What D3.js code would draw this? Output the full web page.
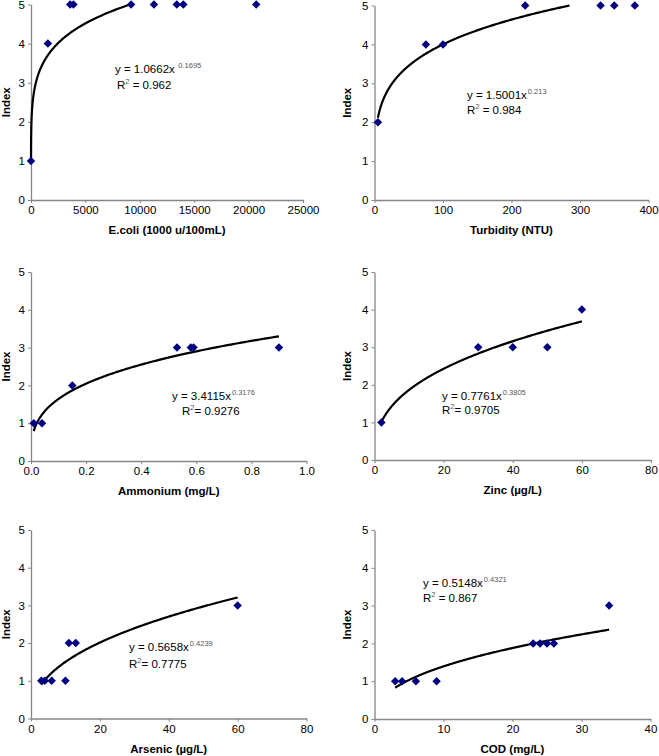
<!DOCTYPE html>
<html>
<head>
<meta charset="utf-8">
<script src="https://cdn.jsdelivr.net/npm/d3@7"></script>
<style>
  html, body { margin: 0; padding: 0; background: #fff; }
  svg { display: block; font-family: "Liberation Sans", Arial, sans-serif; }
</style>
</head>
<body>
<svg id="chart" width="659" height="756"></svg>
<script>
// ---------- data ----------
const yTicks = [0, 1, 2, 3, 4, 5];

const ecoliX = [1, 1550, 3600, 3900, 9200, 11300, 13400, 14000, 20700];
const ecoliY = [1, 4, 5, 5, 5, 5, 5, 5, 5];
const ecoliTicks = [0, 5000, 10000, 15000, 20000, 25000];

const turbX = [5, 75, 100, 220, 330, 350, 380];
const turbY = [2, 4, 4, 5, 5, 5, 5];
const turbTicks = [0, 100, 200, 300, 400];

const ammX = [0.01, 0.04, 0.15, 0.53, 0.58, 0.59, 0.90];
const ammY = [1, 1, 2, 3, 3, 3, 3];
const ammTicks = [0, 0.2, 0.4, 0.6, 0.8, 1.0];

const zincX = [2, 30, 40, 50, 60];
const zincY = [1, 3, 3, 3, 4];
const zincTicks = [0, 20, 40, 60, 80];

const arsX = [3, 4, 6, 10, 11, 13, 60];
const arsY = [1, 1, 1, 1, 2, 2, 3];
const arsTicks = [0, 20, 40, 60, 80];

const codX = [3, 4, 6, 9, 23, 24, 25, 26, 34];
const codY = [1, 1, 1, 1, 2, 2, 2, 2, 3];
const codTicks = [0, 10, 20, 30, 40];

const titles = ["E.coli (1000 u/100mL)", "Turbidity (NTU)", "Ammonium (mg/L)",
                "Zinc (\u00b5g/L)", "Arsenic (\u00b5g/L)", "COD (mg/L)"];
// power trendlines y = a * x^b as printed on the chart
const fitA = [1.0662, 1.5001, 3.4115, 0.7761, 0.5658, 0.5148];
const fitB = [0.1695, 0.213, 0.3176, 0.3805, 0.4239, 0.4321];
const eqMain = ["y = 1.0662x", "y = 1.5001x", "y = 3.4115x", "y = 0.7761x", "y = 0.5658x", "y = 0.5148x"];
const eqSup  = ["0.1695", "0.213", "0.3176", "0.3805", "0.4239", "0.4321"];
const r2Text = ["= 0.962", "= 0.984", "= 0.9276", "= 0.9705", "= 0.7775", "= 0.867"];
const r2Gap  = [true, true, false, false, false, true];

// ---------- layout ----------
const layout = [
  { l: 31,    r: 303,   t: 4.5, b: 200,   eq: [115, 73],  r2: [117, 89],  supGap: 3.5 },
  { l: 374.5, r: 648.5, t: 5.5, b: 200,   eq: [467, 99],  r2: [467, 114], supGap: 1 },
  { l: 31,    r: 306.5, t: 272, b: 461,   eq: [172, 400], r2: [182, 415], supGap: 1 },
  { l: 374.5, r: 651,   t: 272, b: 460,   eq: [442, 400], r2: [442, 414], supGap: 1 },
  { l: 31,    r: 306.5, t: 530, b: 718.5, eq: [129, 651], r2: [129, 668], supGap: 1 },
  { l: 374.5, r: 650.5, t: 530, b: 719,   eq: [423, 587], r2: [423, 602], supGap: 1 }
];

const panels = [
  { x: ecoliX, y: ecoliY, ticks: ecoliTicks, fmt: d3.format("d") },
  { x: turbX,  y: turbY,  ticks: turbTicks,  fmt: d3.format("d") },
  { x: ammX,   y: ammY,   ticks: ammTicks,   fmt: d3.format(".1f") },
  { x: zincX,  y: zincY,  ticks: zincTicks,  fmt: d3.format("d") },
  { x: arsX,   y: arsY,   ticks: arsTicks,   fmt: d3.format("d") },
  { x: codX,   y: codY,   ticks: codTicks,   fmt: d3.format("d") }
];

const svg = d3.select("#chart");
const axisColor = "#868686";

panels.forEach((p, i) => {
  const L = layout[i];
  const xs = d3.scaleLinear().domain([0, d3.max(p.ticks)]).range([L.l, L.r]);
  const ys = d3.scaleLinear().domain([0, 5]).range([L.b, L.t]);
  const g = svg.append("g");

  // x axis
  const xa = g.append("g").attr("transform", `translate(0,${L.b})`)
    .call(d3.axisBottom(xs).tickValues(p.ticks).tickFormat(p.fmt).tickSizeInner(3).tickSizeOuter(0).tickPadding(3));
  // y axis
  const ya = g.append("g").attr("transform", `translate(${L.l},0)`)
    .call(d3.axisLeft(ys).tickValues(yTicks).tickFormat(d3.format("d")).tickSizeInner(3).tickSizeOuter(0).tickPadding(3));
  [xa, ya].forEach(a => {
    a.select(".domain").attr("stroke", axisColor).attr("stroke-width", 1.3);
    a.selectAll(".tick line").attr("stroke", axisColor).attr("stroke-width", 1);
    a.selectAll(".tick text").attr("fill", "#000").style("font-size", "11.5px")
      .style("font-family", '"Liberation Sans", Arial, sans-serif');
  });

  // axis titles
  g.append("text").attr("x", (L.l + L.r) / 2).attr("y", L.b + 34)
    .attr("text-anchor", "middle").style("font-size", "11.5px").style("font-weight", "bold")
    .text(titles[i]);
  g.append("text")
    .attr("transform", `translate(${L.l - (i % 2 === 0 ? 21 : 24)},${(L.t + L.b) / 2}) rotate(-90)`)
    .attr("text-anchor", "middle").style("font-size", "11.5px").style("font-weight", "bold")
    .text("Index");

  // trendline
  const x0 = d3.min(p.x), x1 = d3.max(p.x);
  const n = 300;
  const pts = d3.range(n + 1).map(k => {
    const xv = x0 * Math.pow(x1 / x0, k / n);
    return [xv, fitA[i] * Math.pow(xv, fitB[i])];
  }).filter(d => d[1] <= 5.0);
  g.append("path").datum(pts)
    .attr("fill", "none").attr("stroke", "#000").attr("stroke-width", 2.2)
    .attr("d", d3.line().x(d => xs(d[0])).y(d => ys(d[1])));

  // markers
  const sym = d3.symbol().type(d3.symbolSquare).size(36);
  g.selectAll("path.pt").data(p.x.map((xv, k) => [xv, p.y[k]])).join("path")
    .attr("class", "pt")
    .attr("transform", d => `translate(${xs(d[0])},${ys(d[1])}) rotate(45)`)
    .attr("d", sym).attr("fill", "#000080");

  // equation
  const et = g.append("text").attr("x", L.eq[0]).attr("y", L.eq[1]).style("font-size", "11.5px");
  et.append("tspan").text(eqMain[i]);
  et.append("tspan").attr("dx", L.supGap).attr("dy", -5).style("font-size", "7.5px")
    .attr("fill", "#555").text(eqSup[i]);
  const rt = g.append("text").attr("x", L.r2[0]).attr("y", L.r2[1]).style("font-size", "11.5px");
  rt.append("tspan").text("R");
  rt.append("tspan").attr("dy", -5).style("font-size", "7.5px").attr("fill", "#555").text("2");
  rt.append("tspan").attr("dy", 5).text((r2Gap[i] ? " " : "") + r2Text[i]);
});
</script>
</body>
</html>
